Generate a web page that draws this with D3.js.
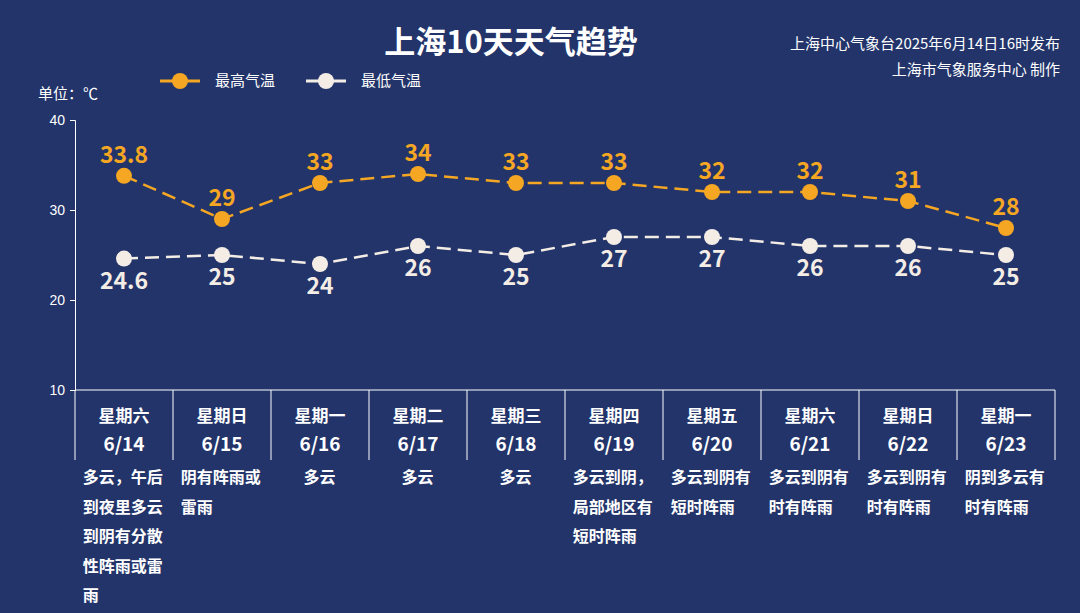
<!DOCTYPE html>
<html><head><meta charset="utf-8">
<script src="https://d3js.org/d3.v7.min.js"></script>
<style>body{margin:0;background:#22346a}text{font-family:"Noto Sans CJK SC",sans-serif}</style>
</head><body>
<svg id="c" width="1080" height="613"></svg>
<script>
var weekdays = ["星期六","星期日","星期一","星期二","星期三","星期四","星期五","星期六","星期日","星期一"];
var dates = ["6/14","6/15","6/16","6/17","6/18","6/19","6/20","6/21","6/22","6/23"];
var highs = [33.8,29,33,34,33,33,32,32,31,28];
var lows = [24.6,25,24,26,25,27,27,26,26,25];
var weather = [
  ["多云，午后","到夜里多云","到阴有分散","性阵雨或雷","雨"],
  ["阴有阵雨或","雷雨"],["多云"],["多云"],["多云"],
  ["多云到阴，","局部地区有","短时阵雨"],
  ["多云到阴有","短时阵雨"],["多云到阴有","时有阵雨"],["多云到阴有","时有阵雨"],["阴到多云有","时有阵雨"]
];
var yTicks = [10,20,30,40];
var hiColor = "#f5a623", loColor = "#f4ede6", bg = "#22346a";

var svg = d3.select("#c");
svg.append("rect").attr("width",1080).attr("height",613).attr("fill",bg);

var x = d3.scaleBand().domain(d3.range(10)).range([75,1055]);
var y = d3.scaleLinear().domain([10,40]).range([390,120]);

// title
svg.append("text").attr("x",511).attr("y",53).attr("text-anchor","middle")
  .attr("fill","#fff").attr("font-size",31).attr("font-weight","bold").text("上海10天天气趋势");
svg.append("text").attr("x",1060).attr("y",49).attr("text-anchor","end").attr("fill","#fff").attr("font-size",15).text("上海中心气象台2025年6月14日16时发布");
svg.append("text").attr("x",1060).attr("y",75).attr("text-anchor","end").attr("fill","#fff").attr("font-size",15).text("上海市气象服务中心 制作");
svg.append("text").attr("x",38).attr("y",99).attr("fill","#fff").attr("font-size",15).text("单位：℃");

// legend
[[hiColor,"最高气温",160],[loColor,"最低气温",306]].forEach(function(l){
  svg.append("line").attr("x1",l[2]).attr("x2",l[2]+40).attr("y1",81).attr("y2",81).attr("stroke",l[0]).attr("stroke-width",3);
  svg.append("circle").attr("cx",l[2]+20).attr("cy",81).attr("r",8).attr("fill",l[0]);
  svg.append("text").attr("x",l[2]+55).attr("y",86).attr("fill","#fff").attr("font-size",15).text(l[1]);
});

// y axis
svg.append("g").attr("transform","translate(75,0)")
  .call(d3.axisLeft(y).tickValues(yTicks).tickSize(5).tickPadding(5))
  .call(function(g){g.selectAll("line,path").attr("stroke","#fff");g.selectAll("text").attr("fill","#fff").attr("font-size",14).style("font-family","Liberation Sans")});
// x axis
svg.append("line").attr("x1",75).attr("x2",1055).attr("y1",390).attr("y2",390).attr("stroke","#fff");
d3.range(11).forEach(function(i){
  var xx = i<10 ? x(i) : 1055;
  svg.append("line").attr("x1",xx).attr("x2",xx).attr("y1",390).attr("y2",460).attr("stroke","#fff");
});
var cx = function(i){return x(i)+x.bandwidth()/2;};
d3.range(10).forEach(function(i){
  svg.append("text").attr("x",cx(i)).attr("y",422).attr("text-anchor","middle").attr("fill","#fff").attr("font-size",17).attr("font-weight","bold").text(weekdays[i]);
  svg.append("text").attr("x",cx(i)).attr("y",451).attr("text-anchor","middle").attr("fill","#fff").attr("font-size",19).attr("font-weight","bold").text(dates[i]);
  var lines = weather[i];
  var w = d3.max(lines,function(s){return s.length;})*16.5;
  lines.forEach(function(s,j){
    svg.append("text").attr("x",cx(i)-w/2).attr("y",483+j*29.5).attr("fill","#fff").attr("font-size",16).attr("font-weight","bold").text(s);
  });
});

function series(data,color,labelDy){
  var line = d3.line().x(function(d,i){return cx(i);}).y(function(d){return y(d);});
  svg.append("path").datum(data).attr("d",line).attr("fill","none").attr("stroke",color)
    .attr("stroke-width",2.5).attr("stroke-dasharray","14,7");
  svg.selectAll(null).data(data).enter().append("circle")
    .attr("cx",function(d,i){return cx(i);}).attr("cy",function(d){return y(d);}).attr("r",8).attr("fill",color);
  svg.selectAll(null).data(data).enter().append("text")
    .attr("x",function(d,i){return cx(i);}).attr("y",function(d){return y(d)+labelDy;})
    .attr("text-anchor","middle").attr("fill",color).attr("font-size",23).attr("font-weight","bold").text(function(d){return d;});
}
series(highs,hiColor,-13);
series(lows,loColor,30);
</script>
</body></html>
